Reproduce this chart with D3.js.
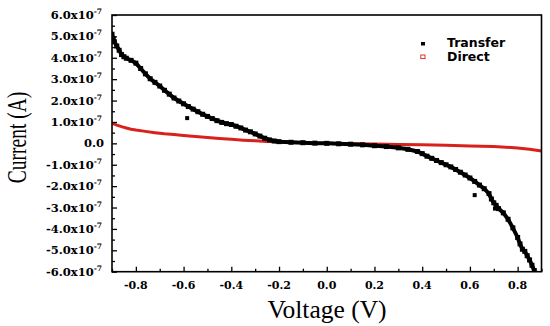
<!DOCTYPE html>
<html><head><meta charset="utf-8">
<script src="https://cdn.jsdelivr.net/npm/d3@7"></script>
<style>body{margin:0;background:#fff}svg{display:block}</style>
</head><body>
<svg id="c" width="550" height="326"></svg>
<script>
// Data (current in units of 1e-7 A)
const transferV = [-0.90,-0.895,-0.89,-0.88,-0.87,-0.86,-0.85,-0.84,-0.82,-0.80,-0.78,-0.76,-0.74,-0.72,-0.70,-0.68,-0.66,-0.64,-0.62,-0.60,-0.58,-0.56,-0.54,-0.52,-0.50,-0.48,-0.46,-0.44,-0.42,-0.40,-0.38,-0.36,-0.34,-0.32,-0.30,-0.28,-0.26,-0.24,-0.22,-0.20,-0.15,-0.10,-0.05,0.00,0.05,0.10,0.15,0.20,0.25,0.30,0.34,0.38,0.40,0.42,0.44,0.46,0.48,0.50,0.52,0.54,0.56,0.58,0.60,0.62,0.64,0.66,0.68,0.69,0.70,0.71,0.72,0.74,0.76,0.78,0.80,0.81,0.82,0.83,0.84,0.85,0.86,0.87];
const transferI = [5.10,4.90,4.75,4.55,4.35,4.15,4.05,3.98,3.88,3.75,3.50,3.25,3.02,2.85,2.68,2.48,2.30,2.12,1.98,1.85,1.72,1.60,1.48,1.36,1.26,1.16,1.06,0.98,0.92,0.88,0.80,0.72,0.62,0.54,0.44,0.34,0.24,0.16,0.11,0.08,0.05,0.03,0.01,0.00,-0.02,-0.04,-0.07,-0.11,-0.15,-0.21,-0.28,-0.38,-0.48,-0.60,-0.70,-0.80,-0.90,-1.00,-1.10,-1.22,-1.35,-1.48,-1.62,-1.78,-1.95,-2.12,-2.35,-2.60,-2.78,-2.90,-3.05,-3.25,-3.55,-3.95,-4.40,-4.70,-4.95,-5.05,-5.25,-5.45,-5.70,-5.95];
const outlierV = [-0.585, 0.62, 0.705];
const outlierI = [1.18, -2.42, -3.05];
const directV = [-0.90,-0.88,-0.86,-0.84,-0.82,-0.80,-0.76,-0.72,-0.68,-0.64,-0.60,-0.55,-0.50,-0.45,-0.40,-0.35,-0.30,-0.25,-0.20,-0.15,-0.10,-0.05,0.00,0.05,0.10,0.20,0.30,0.40,0.50,0.60,0.70,0.75,0.80,0.85,0.90];
const directI = [0.95,0.85,0.78,0.72,0.66,0.62,0.56,0.50,0.45,0.41,0.37,0.32,0.27,0.23,0.19,0.15,0.12,0.09,0.07,0.05,0.03,0.01,0.00,-0.01,-0.02,-0.03,-0.05,-0.07,-0.09,-0.12,-0.15,-0.18,-0.22,-0.28,-0.36];
const xTicks = [-0.8,-0.6,-0.4,-0.2,0.0,0.2,0.4,0.6,0.8];
const xMinor = [-0.9,-0.7,-0.5,-0.3,-0.1,0.1,0.3,0.5,0.7,0.9];
const yTicks = [-6,-5,-4,-3,-2,-1,0,1,2,3,4,5,6];
const yMinor = [-5.5,-4.5,-3.5,-2.5,-1.5,-0.5,0.5,1.5,2.5,3.5,4.5,5.5];
const seriesNames = ["Transfer","Direct"];

const svg = d3.select("#c");
const L=112, T=15, R=541.5, B=271.7;
const x = d3.scaleLinear().domain([-0.9,0.9]).range([L,R]);
const y = d3.scaleLinear().domain([-6,6]).range([B,T]);

// series
const tData = transferV.map((v,i)=>[v,transferI[i]]);
const dData = directV.map((v,i)=>[v,directI[i]]);
const line = d3.line().x(d=>x(d[0])).y(d=>y(d[1]));
svg.append("clipPath").attr("id","pc").append("rect").attr("x",L).attr("y",T).attr("width",R-L).attr("height",B-T);
const g = svg.append("g").attr("clip-path","url(#pc)");
g.append("path").datum(dData).attr("d",line).attr("fill","none").attr("stroke","#d8201c").attr("stroke-width",3);
g.append("path").datum(tData).attr("d",line).attr("fill","none").attr("stroke","#000").attr("stroke-width",4);
g.selectAll("rect.t").data(tData).enter().append("rect").attr("class","t")
  .attr("x",d=>x(d[0])-2.5).attr("y",d=>y(d[1])-2.5).attr("width",5).attr("height",5).attr("fill","#000");
const oData = outlierV.map((v,i)=>[v,outlierI[i]]);
g.selectAll("rect.o").data(oData).enter().append("rect").attr("class","o")
  .attr("x",d=>x(d[0])-2).attr("y",d=>y(d[1])-2).attr("width",4).attr("height",4).attr("fill","#000");

// axes (inward ticks)
svg.append("g").attr("transform",`translate(0,${B})`)
  .call(d3.axisBottom(x).tickValues(xTicks).tickSize(-5).tickFormat(""));
svg.append("g").attr("transform",`translate(0,${B})`)
  .call(d3.axisBottom(x).tickValues(xMinor).tickSize(-3).tickFormat(""));
svg.append("g").attr("transform",`translate(${L},0)`)
  .call(d3.axisLeft(y).tickValues(yTicks).tickSize(-5).tickFormat(""));
svg.append("g").attr("transform",`translate(${L},0)`)
  .call(d3.axisLeft(y).tickValues(yMinor).tickSize(-3).tickFormat(""));
svg.selectAll(".domain").remove();
svg.selectAll(".tick line").attr("stroke","#000").attr("stroke-width",1.3);
svg.append("rect").attr("x",L).attr("y",T).attr("width",R-L).attr("height",B-T)
  .attr("fill","none").attr("stroke","#000").attr("stroke-width",1.6);

// tick labels
svg.selectAll("text.xl").data(xTicks).enter().append("text").attr("class","xl")
  .attr("x",d=>x(d)).attr("y",288.5)
  .attr("text-anchor","middle").attr("font-family","DejaVu Serif").attr("font-weight","bold")
  .attr("font-size",11).text(d=>d.toFixed(1));
const yl = svg.selectAll("text.yl").data(yTicks).enter().append("text").attr("class","yl")
  .attr("x",d=>d===0?104:102).attr("y",d=>y(d)+4)
  .attr("text-anchor","end").attr("font-family","DejaVu Serif").attr("font-weight","bold")
  .attr("font-size",11.5);
yl.each(function(d){
  const t=d3.select(this);
  if(d===0){t.text("0.0");return;}
  t.append("tspan").text(d.toFixed(1)+"x10");
  t.append("tspan").attr("dy",-5).attr("font-size",7.5).text("-7");
});

// axis titles
svg.append("text").attr("x",327).attr("y",318).attr("text-anchor","middle")
  .attr("font-family","Liberation Serif").attr("font-size",25.5).text("Voltage (V)");
svg.append("text").attr("transform","translate(26,137.5) scale(1.4,1) rotate(-90)").attr("text-anchor","middle")
  .attr("font-family","Liberation Serif").attr("font-size",19.5).text("Current (A)");

// legend
svg.append("rect").attr("x",421).attr("y",42).attr("width",4).attr("height",3.5).attr("fill","#000");
svg.append("rect").attr("x",420.8).attr("y",55).attr("width",4.2).attr("height",3.6).attr("fill","none").attr("stroke","#d8201c").attr("stroke-width",0.9);
svg.selectAll("text.lg").data(seriesNames).enter().append("text").attr("class","lg")
  .attr("x",447).attr("y",(d,i)=>46.5+i*14)
  .attr("font-family","DejaVu Sans").attr("font-weight","bold").attr("font-size",12.5).text(d=>d);
</script>
</body></html>
